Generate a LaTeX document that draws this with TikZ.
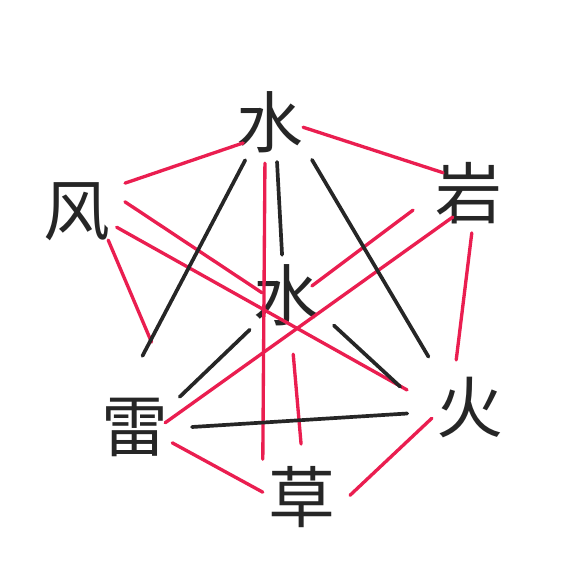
\documentclass[tikz,border=0pt]{standalone}
\usepackage{fontspec}
\newfontfamily\cjk{Noto Sans CJK SC}
\usetikzlibrary{calc}
\definecolor{penred}{RGB}{234,30,80}
\definecolor{penblack}{RGB}{38,38,38}

\begin{document}
\begin{tikzpicture}[
    elem/.style={inner sep=0pt, text=penblack, font=\cjk\fontsize{38}{38}\selectfont},
    blk/.style={draw=penblack, line width=2.1pt, line cap=round},
    rd/.style={draw=penred, line width=1.9pt, line cap=round}
]
\useasboundingbox (0,0) rectangle (11.6,-11.6);
\node[elem] (shang) at (5.40,-2.44) {水};
\node[elem] (feng) at (1.54,-4.24) {风};
\node[elem] (yan) at (9.38,-3.86) {岩};
\node[elem] (zhong) at (5.74,-5.90) {水};
\node[elem] (lei) at (2.70,-8.54) {雷};
\node[elem] (huo) at (9.40,-8.16) {火};
\node[elem] (cao) at (6.04,-9.94) {草};

% red lines
\draw[rd] ($(feng)+(31:1.12)$) -- ($(shang)+(218:0.68)$);
\draw[rd] ($(shang)+(-9:0.67)$) -- ($(yan)+(142:0.66)$);
\draw[rd] ($(feng)+(-42:0.84)$) -- ($(lei)+(79:1.73)$);
\draw[rd] ($(feng)+(12:0.98)$) -- ($(zhong)+(175:0.50)$);
\draw[rd] ($(feng)+(-21:0.85)$) -- ($(huo)+(164:1.31)$);
\draw[rd] ($(yan)+(197:1.17)$) -- ($(zhong)+(20:0.53)$);
\draw[rd] ($(yan)+(236:0.58)$) -- ($(lei)+(8:0.61)$);
\draw[rd] ($(yan)+(274:0.80)$) -- ($(huo)+(106:1.00)$);
\draw[rd] ($(shang)+(263:0.83)$) -- ($(cao)+(136:1.09)$);
\draw[rd] ($(zhong)+(276:1.19)$) -- ($(cao)+(91:1.06)$);
\draw[rd] ($(lei)+(-23:0.81)$) -- ($(cao)+(173:0.79)$);
\draw[rd] ($(huo)+(195:0.79)$) -- ($(cao)+(2:0.96)$);

% black lines
\draw[blk] ($(shang)+(237:0.91)$) -- ($(lei)+(84:1.43)$);
\draw[blk] ($(shang)+(280:0.81)$) -- ($(zhong)+(97:0.81)$);
\draw[blk] ($(shang)+(318:1.13)$) -- ($(huo)+(129:1.32)$);
\draw[blk] ($(zhong)+(223:1.02)$) -- ($(lei)+(34:1.08)$);
\draw[blk] ($(zhong)+(327:1.12)$) -- ($(huo)+(163:1.46)$);
\draw[blk] ($(lei)+(0:1.14)$) -- ($(huo)+(185:1.26)$);
\end{tikzpicture}
\end{document}
